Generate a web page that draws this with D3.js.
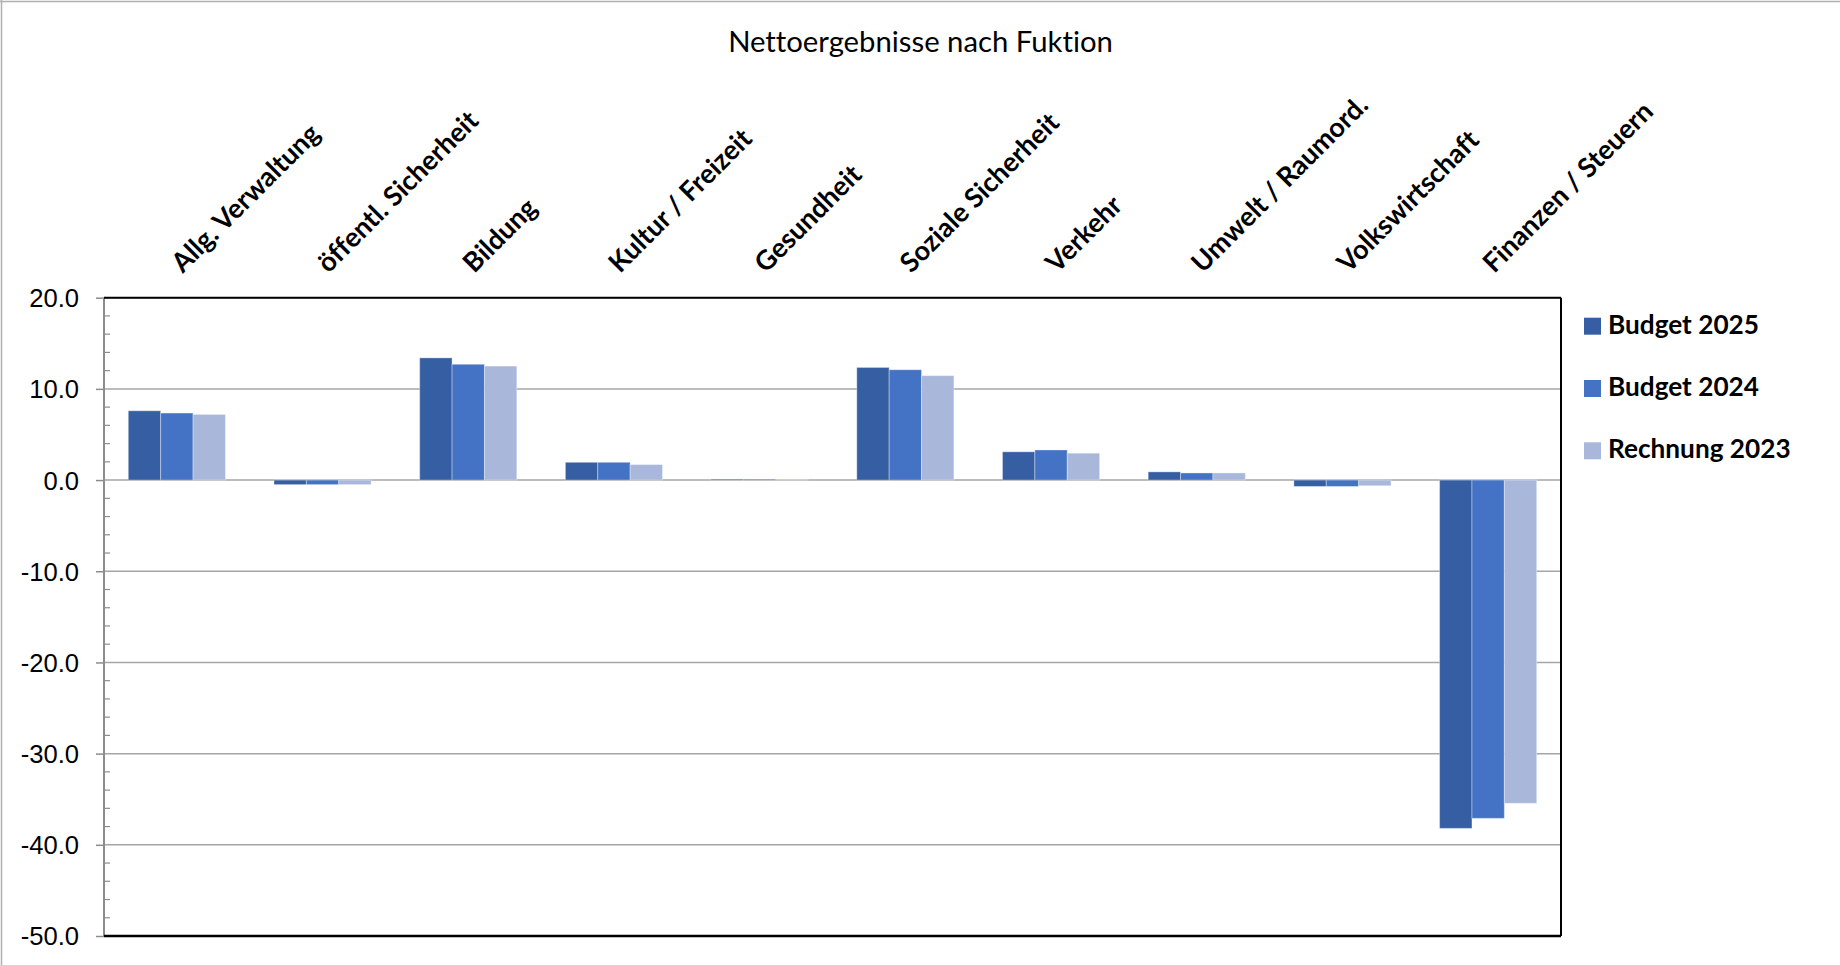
<!DOCTYPE html>
<html><head><meta charset="utf-8">
<script src="https://cdn.jsdelivr.net/npm/d3@7"></script>
<style>html,body{margin:0;padding:0;background:#fff;}svg{display:block;}text{font-variant-ligatures:none;font-feature-settings:"liga" 0;}</style>
</head><body>
<svg id="chart" width="1840" height="965"></svg>
<script>
const categories = ["Allg. Verwaltung","öffentl. Sicherheit","Bildung","Kultur / Freizeit","Gesundheit","Soziale Sicherheit","Verkehr","Umwelt / Raumord.","Volkswirtschaft","Finanzen / Steuern"];
const seriesNames = ["Budget 2025","Budget 2024","Rechnung 2023"];
const budget2025 = [7.6, -0.5, 13.4, 1.95, 0.1, 12.35, 3.1, 0.9, -0.7, -38.2];
const budget2024 = [7.35, -0.5, 12.7, 1.95, 0.1, 12.1, 3.3, 0.78, -0.7, -37.1];
const rechnung2023 = [7.2, -0.5, 12.5, 1.7, 0.05, 11.45, 2.95, 0.78, -0.62, -35.45];
const yTicks = [20, 10, 0, -10, -20, -30, -40, -50];
const colors = ["#365fa3", "#4472c4", "#a9b7db"];
const title = "Nettoergebnisse nach Fuktion";

const seriesValues = [budget2025, budget2024, rechnung2023];
const svg = d3.select("#chart");
const L = 104, R = 1561, T = 297.7, B = 936;

// outer frame (left & top visible)
svg.append("line").attr("x1",1.5).attr("x2",1.5).attr("y1",0).attr("y2",965).attr("stroke","#b0b0b0").attr("stroke-width",1.5);
svg.append("line").attr("x1",0).attr("x2",1840).attr("y1",1.5).attr("y2",1.5).attr("stroke","#b0b0b0").attr("stroke-width",1.5);

const x0 = d3.scaleBand().domain(categories).range([L, R]).paddingInner(1/3).paddingOuter(1/6);
const x1 = d3.scaleBand().domain(seriesNames).range([0, x0.bandwidth()]).padding(0);
const y = d3.scaleLinear().domain([-50, 20]).range([B, T]);

// gridlines
svg.append("g").selectAll("line").data(yTicks).join("line")
  .attr("x1", L).attr("x2", R).attr("y1", d => y(d)).attr("y2", d => y(d))
  .attr("stroke", "#a6a6a6").attr("stroke-width", 1.5);

// bars
const data = [];
categories.forEach((c, i) => seriesNames.forEach((s, j) => data.push({c, s, j, v: seriesValues[j][i]})));
svg.append("g").selectAll("rect").data(data).join("rect")
  .attr("x", d => x0(d.c) + x1(d.s))
  .attr("width", x1.bandwidth())
  .attr("y", d => y(Math.max(0, d.v)))
  .attr("height", d => Math.abs(y(d.v) - y(0)))
  .attr("fill", d => colors[d.j])
  .attr("stroke", "#ffffff").attr("stroke-opacity", 0.35).attr("stroke-width", 1);

// y axis
const yAxis = d3.axisLeft(y).tickValues(yTicks).tickSize(8).tickFormat(d => d.toFixed(1));
const gy = svg.append("g").attr("transform", `translate(${L},0)`).call(yAxis);
gy.select(".domain").remove();
gy.selectAll(".tick line").attr("stroke", "#8c8c8c").attr("stroke-width", 1.5);
gy.selectAll(".tick text").attr("x", -25).attr("font-family", "Liberation Sans, Arial, sans-serif")
  .attr("font-size", 25.6).attr("fill", "#000").attr("dy", "0.35em");
// minor ticks (inside)
const minor = d3.range(-50, 20.01, 2).filter(v => v % 10 !== 0);
svg.append("g").selectAll("line").data(minor).join("line")
  .attr("x1", L).attr("x2", L + 6).attr("y1", d => y(d)).attr("y2", d => y(d))
  .attr("stroke", "#8c8c8c").attr("stroke-width", 1.2);

// frame of plot
svg.append("line").attr("x1", L).attr("x2", L).attr("y1", T).attr("y2", B).attr("stroke", "#8c8c8c").attr("stroke-width", 2);
svg.append("line").attr("x1", L).attr("x2", R).attr("y1", T).attr("y2", T).attr("stroke", "#000").attr("stroke-width", 2);
svg.append("line").attr("x1", R).attr("x2", R).attr("y1", T).attr("y2", B).attr("stroke", "#000").attr("stroke-width", 2);
svg.append("line").attr("x1", L).attr("x2", R).attr("y1", B).attr("y2", B).attr("stroke", "#000").attr("stroke-width", 2.5);

// category labels
svg.append("g").selectAll("text").data(categories).join("text")
  .attr("transform", d => `translate(${x0(d) + x0.bandwidth()/2 + 6},274) rotate(-45)`)
  .attr("font-family", "Lato, sans-serif").attr("font-weight", "bold").attr("font-size", 27)
  .attr("fill", "#000").attr("text-anchor", "start").text(d => d);

// title
function fitWidth(sel, w) {
  const cur = sel.node().getComputedTextLength();
  const fs = parseFloat(sel.attr("font-size"));
  sel.attr("font-size", fs * w / cur);
}
const t = svg.append("text").attr("x", 920.5).attr("y", 52).attr("text-anchor", "middle")
  .attr("font-family", "Lato, sans-serif").attr("font-size", 26).attr("fill", "#000").text(title);
fitWidth(t, 385);

// legend
const lg = svg.append("g").selectAll("g").data(seriesNames).join("g")
  .attr("transform", (d, i) => `translate(1584,${317.7 + i * 62.3})`);
lg.append("rect").attr("width", 17).attr("height", 17).attr("fill", (d, i) => colors[i]);
const lt = lg.append("text").attr("x", 24).attr("y", 16).attr("font-family", "Lato, sans-serif")
  .attr("font-weight", "bold").attr("font-size", 28).attr("fill", "#000").text(d => d);
fitWidth(d3.select(lt.nodes()[0]), 151);
const lfs = d3.select(lt.nodes()[0]).attr("font-size");
lt.attr("font-size", lfs);
</script>
</body></html>
